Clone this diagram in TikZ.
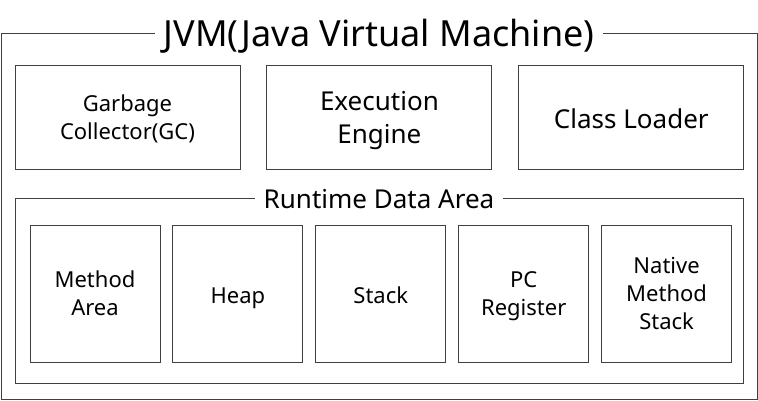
\documentclass[tikz,border=0pt]{standalone}
\usepackage{fontspec}
\setmainfont{Noto Sans}
\usetikzlibrary{positioning}

\begin{document}
\begin{tikzpicture}[
    x=1pt, y=-1pt,
    node distance=0pt,
    frame/.style={draw=black!75, line width=0.9pt, inner sep=0pt},
    part/.style={frame, minimum width=225pt, minimum height=104pt, align=center, font=\fontsize{26}{33}\selectfont,
        execute at begin node=\strut, text depth=0pt},
    area/.style={frame, minimum width=130pt, minimum height=137pt, align=center, font=\fontsize{22}{28}\selectfont,
        execute at begin node=\strut, text depth=0pt},
    heading/.style={fill=white, inner xsep=9pt, inner ysep=2pt}
]
\useasboundingbox (0,0) rectangle (758,400);
\node[frame, minimum width=756pt, minimum height=366pt] (jvm) at (379,216) {};
\node[part, font=\fontsize{22}{28}\selectfont] (gc) at (127.5,117) {Garbage\\Collector(GC)};
\node[part, right=26pt of gc] (engine) {Execution\\Engine};
\node[part, right=26pt of engine] (loader) {Class Loader};
\node[frame, minimum width=728pt, minimum height=185pt] (rda) at (379,290.5) {};
\node[area] (method) at (95,293.5) {Method\\Area};
\node[area, right=12pt of method] (heap) {Heap};
\node[area, right=12pt of heap] (stack) {Stack};
\node[area, right=12pt of stack] (pc) {PC\\Register};
\node[area, right=12pt of pc] (native) {Native\\Method\\Stack};
\node[heading, font=\fontsize{36}{40}\selectfont, yshift=-4pt] (jvmtitle) at (jvm.north) {JVM(Java Virtual Machine)};
\node[heading, font=\fontsize{26}{30}\selectfont, yshift=-1pt] (rdatitle) at (rda.north) {Runtime Data Area};
\end{tikzpicture}
\end{document}
